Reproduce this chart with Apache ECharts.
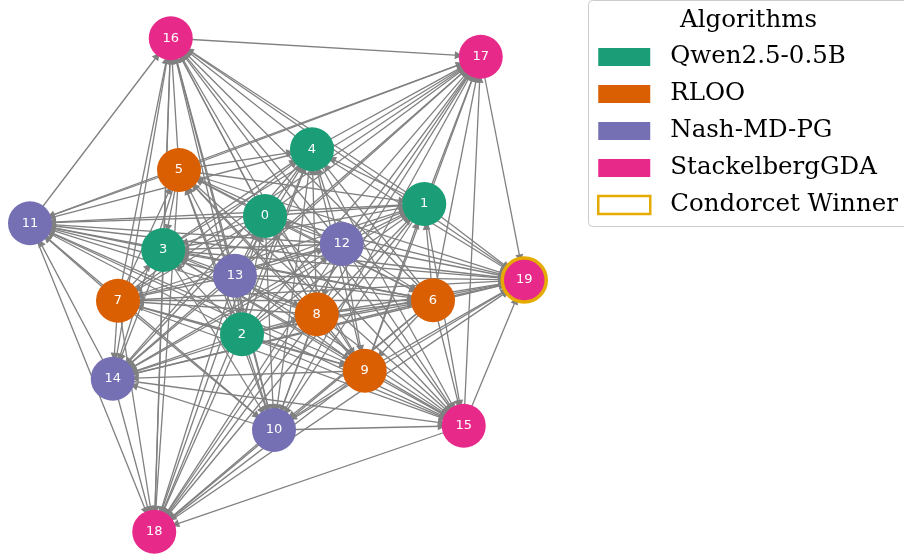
<!DOCTYPE html>
<html>
<head>
<meta charset="utf-8">
<script src="https://cdn.jsdelivr.net/npm/echarts@6/dist/echarts.min.js"></script>
<style>
  html, body { margin: 0; padding: 0; background: #ffffff; }
  #chart { width: 904px; height: 556px; }
</style>
</head>
<body>
<div id="chart"></div>
<script>
// Algorithm groups shown in the legend
const algorithms = ['Qwen2.5-0.5B', 'RLOO', 'Nash-MD-PG', 'StackelbergGDA'];
const algoColors = ['#1b9e77', '#d95f02', '#7570b3', '#e7298a'];
const winnerLabel = 'Condorcet Winner';
const winnerColor = '#e6ab02';
const legendTitle = 'Algorithms';

// Checkpoints (graph nodes) and the algorithm each one belongs to
const nodeIds = [0, 1, 2, 3, 4, 5, 6, 7, 8, 9, 10, 11, 12, 13, 14, 15, 16, 17, 18, 19];
const nodeAlgorithm = [0, 0, 0, 0, 0, 1, 1, 1, 1, 1, 2, 2, 2, 2, 2, 3, 3, 3, 3, 3];

// Node layout coordinates
const nodeX = [-0.060, 0.577, -0.152, -0.467, 0.128, -0.404, 0.612, -0.648, 0.147, 0.339,
               -0.024, -1.000, 0.247, -0.180, -0.669, 0.735, -0.437, 0.803, -0.503, 0.977];
const nodeY = [0.248, 0.296, -0.225, 0.112, 0.515, 0.432, -0.089, -0.091, -0.145, -0.371,
               -0.608, 0.219, 0.136, 0.009, -0.403, -0.591, 0.959, 0.885, -1.015, -0.008];

const condorcetWinner = 19;

// Pairwise preferences: each node points to the nodes preferred over it
const preferredOver = {
  13: [2, 12, 8, 0, 6, 7, 9, 5, 3, 1, 4, 10, 14, 11, 15, 18, 16, 17, 19],
  2:  [12, 8, 0, 6, 7, 9, 5, 3, 1, 4, 10, 14, 11, 15, 18, 16, 17, 19],
  12: [8, 0, 6, 7, 9, 5, 3, 1, 4, 10, 14, 11, 15, 18, 16, 17, 19],
  8:  [0, 6, 7, 9, 5, 3, 1, 4, 10, 14, 11, 15, 18, 16, 17, 19],
  0:  [6, 7, 9, 5, 3, 1, 4, 10, 14, 11, 15, 18, 16, 17, 19],
  6:  [7, 9, 5, 3, 1, 4, 10, 14, 11, 15, 18, 16, 17, 19],
  7:  [9, 5, 3, 1, 4, 10, 14, 11, 15, 18, 16, 17, 19],
  9:  [5, 3, 1, 4, 10, 14, 11, 15, 18, 16, 17, 19],
  5:  [3, 1, 4, 10, 14, 11, 15, 18, 16, 17, 19],
  3:  [1, 4, 10, 14, 11, 15, 18, 16, 17, 19],
  1:  [4, 10, 14, 11, 15, 18, 16, 17, 19],
  4:  [10, 14, 11, 15, 18, 16, 17, 19],
  10: [14, 11, 15, 18, 16, 17, 19],
  14: [11, 15, 18, 16, 17, 19],
  11: [15, 18, 16, 17, 19],
  15: [18, 16, 17, 19],
  18: [16, 17, 19],
  16: [17, 19],
  17: [19]
};

// ---- build graph data ----
const categories = algorithms.map((name, i) => ({ name: name, itemStyle: { color: algoColors[i] } }));
categories.push({ name: winnerLabel, itemStyle: { color: '#ffffff', borderColor: winnerColor, borderWidth: 2.5 } });

const nodes = nodeIds.map((id, i) => {
  const item = {
    name: String(id),
    value: [nodeX[i], nodeY[i]],
    category: nodeAlgorithm[i]
  };
  if (id === condorcetWinner) {
    item.itemStyle = { borderColor: winnerColor, borderWidth: 3.5 };
  }
  return item;
});

const links = [];
Object.keys(preferredOver).forEach(src => {
  preferredOver[src].forEach(dst => {
    links.push({ source: String(src), target: String(dst) });
  });
});

const legendData = algorithms.map((name, i) => ({
  name: name,
  itemStyle: { color: algoColors[i], borderWidth: 0 }
}));
legendData.push({
  name: winnerLabel,
  itemStyle: { color: '#ffffff', borderColor: winnerColor, borderWidth: 2.5 }
});

const chart = echarts.init(document.getElementById('chart'), null, { renderer: 'canvas' });

chart.setOption({
  animation: false,
  backgroundColor: '#ffffff',
  grid: { left: 0, top: 0, width: 560, height: 556, show: false },
  xAxis: { type: 'value', min: -1.12, max: 1.12, show: false },
  yAxis: { type: 'value', min: -1.112, max: 1.112, show: false },
  graphic: [
    {
      type: 'rect',
      z: 0,
      shape: { x: 588.5, y: 0.5, width: 340, height: 226, r: 4 },
      style: { fill: 'rgba(255,255,255,0.8)', stroke: '#cccccc', lineWidth: 1 }
    },
    {
      type: 'text',
      z: 10,
      style: {
        x: 748.5, y: 20.5,
        text: legendTitle,
        fontFamily: 'DejaVu Serif',
        fontSize: 24.5,
        fill: '#000000',
        align: 'center',
        verticalAlign: 'middle'
      }
    }
  ],
  legend: {
    orient: 'vertical',
    left: 597,
    top: 44.5,
    padding: 0,
    itemWidth: 52,
    itemHeight: 18,
    itemGap: 12,
    icon: 'rect',
    selectedMode: false,
    data: legendData,
    textStyle: {
      fontFamily: 'DejaVu Serif',
      fontSize: 24.5,
      lineHeight: 24.5,
      color: '#000000',
      padding: [0, 0, 0, 15]
    }
  },
  series: [{
    type: 'graph',
    layout: 'none',
    coordinateSystem: 'cartesian2d',
    silent: true,
    symbol: 'circle',
    symbolSize: 44,
    categories: categories,
    data: nodes,
    links: links,
    edgeSymbol: ['none', 'triangle'],
    edgeSymbolSize: [0, 8],
    lineStyle: { color: '#808080', width: 1.3, opacity: 1, curveness: 0 },
    label: {
      show: true,
      position: 'inside',
      color: '#ffffff',
      fontFamily: 'DejaVu Sans',
      fontSize: 13,
      formatter: '{b}'
    },
    emphasis: { disabled: true }
  }]
});
</script>
</body>
</html>
